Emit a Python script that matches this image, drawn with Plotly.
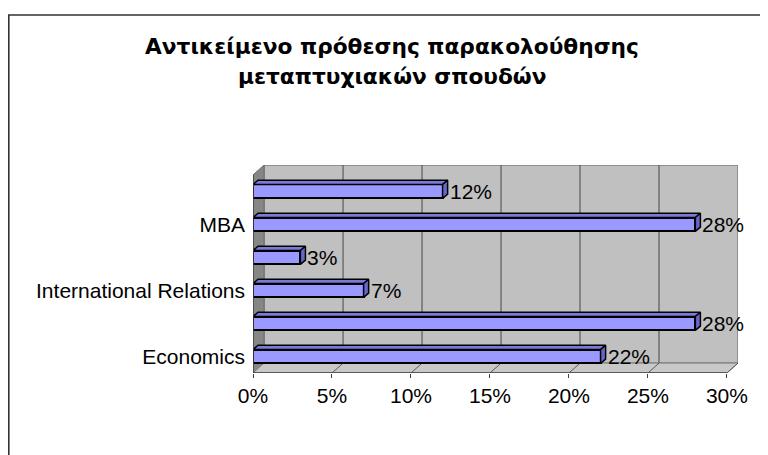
import plotly.graph_objects as go

# data (bottom to top, as drawn)
categories = ["Economics", "", "International Relations", "", "MBA", ""]
values = [22, 28, 7, 3, 28, 12]
x_ticks = [0, 5, 10, 15, 20, 25, 30]
title_lines = ["Αντικείμενο πρόθεσης παρακολούθησης", "μεταπτυχιακών σπουδών"]

FONT = "Liberation Sans, Arial, sans-serif"
TITLE_FONT = "DejaVu Sans, Verdana, sans-serif"

# pixel layout of the plot box (figure coords; page adds an 8px body margin)
W, H = 768, 455
L, R, T, B = 245, 730, 157, 365
xmax = 30.7          # back wall right edge in data units
ymin, ymax = -0.5, 5.8
wall_dx, wall_dy = 0.7, 0.3   # depth of the walls
bar_w = 0.42
bar_dx, bar_dy = 0.32, 0.13   # depth of the bars

pos = list(range(len(categories)))

fig = go.Figure()

# front faces
fig.add_trace(go.Bar(
    y=pos, x=values, orientation="h", width=bar_w,
    marker=dict(color="#9999ff", line=dict(color="black", width=2)),
    hoverinfo="skip", showlegend=False))

# top and right faces of the bars
top_x, top_y, side_x, side_y = [], [], [], []
for p, v in zip(pos, values):
    y1 = p + bar_w / 2
    y0 = p - bar_w / 2
    top_x += [0, v, v + bar_dx, bar_dx, 0, None]
    top_y += [y1, y1, y1 + bar_dy, y1 + bar_dy, y1, None]
    side_x += [v, v + bar_dx, v + bar_dx, v, v, None]
    side_y += [y0, y0 + bar_dy, y1 + bar_dy, y1, y0, None]

fig.add_trace(go.Scatter(x=top_x, y=top_y, mode="lines", fill="toself",
                         fillcolor="#7a7ad8", line=dict(color="black", width=1.5),
                         hoverinfo="skip", showlegend=False))
fig.add_trace(go.Scatter(x=side_x, y=side_y, mode="lines", fill="toself",
                         fillcolor="#6666cc", line=dict(color="black", width=1.5),
                         hoverinfo="skip", showlegend=False))

# data labels
for p, v in zip(pos, values):
    fig.add_annotation(x=v + bar_dx, y=p, text=f"{v}%", showarrow=False,
                       xanchor="left", yanchor="middle", xshift=0,
                       font=dict(family=FONT, size=21, color="black"))

# walls and floor
shapes = []
shapes.append(dict(type="rect", x0=wall_dx, x1=xmax, y0=ymin + wall_dy, y1=ymax,
                   fillcolor="#c0c0c0", line=dict(color="#808080", width=1.5), layer="below"))
shapes.append(dict(type="path",
                   path=f"M 0 {ymin} L {wall_dx} {ymin + wall_dy} L {wall_dx} {ymax} L 0 {ymax - wall_dy} Z",
                   fillcolor="#868686", line=dict(color="#707070", width=1), layer="below"))
shapes.append(dict(type="path",
                   path=f"M 0 {ymin} L {x_ticks[-1]} {ymin} L {xmax} {ymin + wall_dy} L {wall_dx} {ymin + wall_dy} Z",
                   fillcolor="#c8c8c8", line=dict(color="#808080", width=1), layer="below"))
for t in x_ticks[1:-1]:
    shapes.append(dict(type="line", x0=t + wall_dx, x1=t + wall_dx, y0=ymin + wall_dy, y1=ymax,
                       line=dict(color="#5a5a5a", width=1.2), layer="below"))
for t in x_ticks[1:]:
    shapes.append(dict(type="line", x0=t, x1=t + wall_dx, y0=ymin, y1=ymin + wall_dy,
                       line=dict(color="#5a5a5a", width=1), layer="below"))
# front axis lines
shapes.append(dict(type="line", x0=0, x1=x_ticks[-1], y0=ymin, y1=ymin,
                   line=dict(color="#404040", width=1.5)))
shapes.append(dict(type="line", x0=0, x1=0, y0=ymin, y1=ymax - wall_dy,
                   line=dict(color="#404040", width=1.5)))
# category boundary ticks on the left
for k in range(len(categories) + 1):
    shapes.append(dict(type="line", xref="x", yref="y", x0=-0.3, x1=0,
                       y0=ymin + k, y1=ymin + k, line=dict(color="#404040", width=1.2)))

# outer frame (clipped by the page on the right and bottom)
pw, ph = R - L, B - T
shapes.append(dict(type="rect", xref="paper", yref="paper",
                   x0=(0.8 - L) / pw, x1=(W + 20 - L) / pw,
                   y0=(B - (H + 20)) / ph, y1=(B - 7) / ph,
                   line=dict(color="#333333", width=1.6), fillcolor="rgba(0,0,0,0)"))
fig.update_layout(shapes=shapes)

# title
for i, line in enumerate(title_lines):
    fig.add_annotation(xref="paper", yref="paper", x=(384 - L) / pw,
                       y=(B - (38 + 31 * i)) / ph, text=f"<b>{line}</b>",
                       showarrow=False, xanchor="center", yanchor="middle",
                       font=dict(family=TITLE_FONT, size=21.7, color="black"))

fig.update_xaxes(range=[0, xmax], tickvals=x_ticks, ticktext=[f"{t}%" for t in x_ticks],
                 showgrid=False, zeroline=False, showline=False,
                 ticks="outside", ticklen=4, tickcolor="#404040",
                 ticklabelstandoff=0,
                 tickfont=dict(family=FONT, size=21, color="black"))
fig.update_yaxes(range=[ymin, ymax], tickvals=pos, ticktext=categories,
                 showgrid=False, zeroline=False, showline=False, ticks="",
                 ticklabelstandoff=7,
                 tickfont=dict(family=FONT, size=21, color="black"))

fig.update_layout(width=W, height=H, margin=dict(l=L, r=W - R, t=T, b=H - B),
                  paper_bgcolor="white", plot_bgcolor="rgba(0,0,0,0)",
                  bargap=0, showlegend=False)

fig.write_html("out.html")
